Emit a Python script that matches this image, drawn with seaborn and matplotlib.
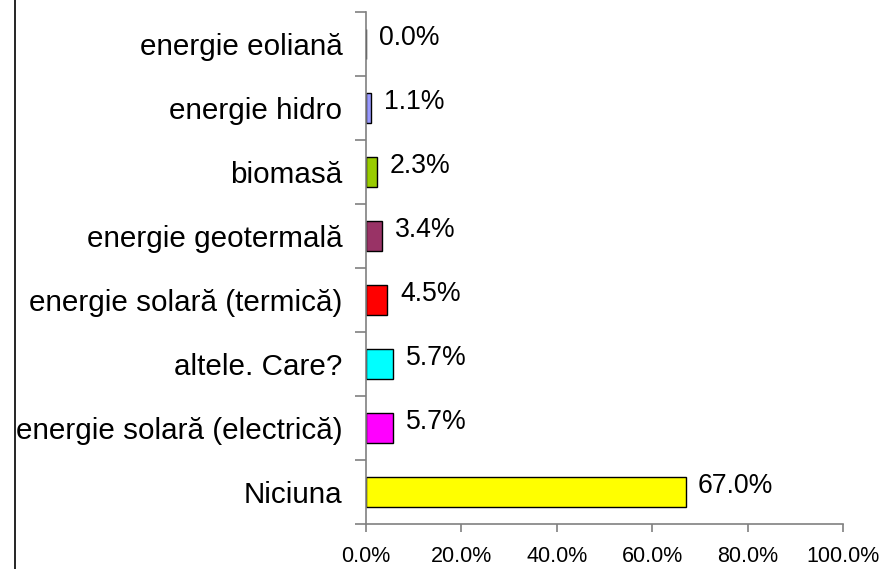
import numpy as np
import pandas as pd
import matplotlib
matplotlib.use('Agg')
import matplotlib.pyplot as plt
from matplotlib.lines import Line2D
from matplotlib.ticker import FixedLocator, PercentFormatter
import seaborn as sns

# data (top to bottom as in the chart)
categories = ['energie eoliană', 'energie hidro', 'biomasă', 'energie geotermală',
              'energie solară (termică)', 'altele. Care?', 'energie solară (electrică)',
              'Niciuna']
values = [0.0, 1.1, 2.3, 3.4, 4.5, 5.7, 5.7, 67.0]
colors = ['#FFFFFF', '#9999FF', '#99CC00', '#993366', '#FF0000', '#00FFFF', '#FF00FF', '#FFFF00']
x_ticks = [0, 20, 40, 60, 80, 100]

sns.set_style('white')
plt.rcParams['font.family'] = ['Liberation Sans', 'DejaVu Sans']
plt.rcParams['text.color'] = 'black'

df = pd.DataFrame({'cat': categories, 'val': values})

fig = plt.figure(figsize=(8.83, 5.69), dpi=100)
ax = fig.add_axes([0.4145, 0.0791, 0.5402, 0.8999])

sns.barplot(data=df, x='val', y='cat', hue='cat', palette=colors, legend=False,
            orient='h', width=0.47, saturation=1, edgecolor='black', linewidth=1.0, ax=ax)

# value labels to the right of each bar
for i, v in enumerate(values):
    ax.annotate(f'{v:.1f}%', xy=(v, i), xytext=(9, 4.5), textcoords='offset points',
                ha='left', va='center', fontsize=19.2, color='black')

ax.set_xlim(0, 100)
ax.set_ylim(len(categories) - 0.5, -0.5)
ax.set_xticks(x_ticks)
ax.xaxis.set_major_formatter(PercentFormatter(decimals=1))
ax.set_xlabel('')
ax.set_ylabel('')

# Excel-like ticks: between categories on y axis
ax.yaxis.set_minor_locator(FixedLocator(np.arange(-0.5, len(categories), 1.0)))
ax.tick_params(axis='y', which='major', length=0, pad=17, labelsize=21.3, labelcolor='black')
ax.tick_params(axis='y', which='minor', length=8, width=1.2, color='#808080', direction='out', left=True)
ax.tick_params(axis='x', which='major', length=6, width=1.2, color='#808080', direction='out',
               bottom=True, pad=10, labelsize=15.5, labelcolor='black')

for side in ['top', 'right']:
    ax.spines[side].set_visible(False)
for side in ['left', 'bottom']:
    ax.spines[side].set_color('#808080')
    ax.spines[side].set_linewidth(1.2)

# chart area border on the left
fig.add_artist(Line2D([15 / 883, 15 / 883], [0, 1], color='black', linewidth=1.2,
                      transform=fig.transFigure))

plt.savefig('out.png', dpi=100)
plt.close()
